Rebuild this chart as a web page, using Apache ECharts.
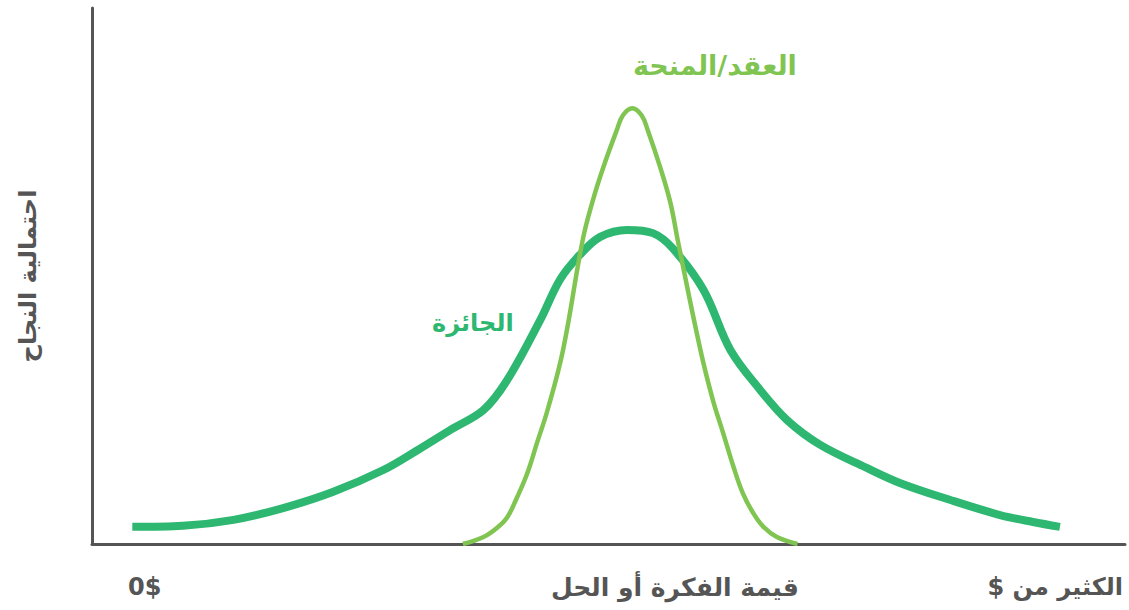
<!DOCTYPE html>
<html>
<head>
<meta charset="utf-8">
<script src="https://cdn.jsdelivr.net/npm/echarts@6/dist/echarts.min.js"></script>
<style>
  html, body { margin: 0; padding: 0; background: #fff; }
  #chart { width: 1129px; height: 610px; }
</style>
</head>
<body>
<div id="chart"></div>
<script>
// value of the idea (0..100) and chance of success (0..100)
var prizeX = [3.9, 8.8, 13.7, 18.5, 23.3, 28.2, 31.5, 34.7, 37.9, 40.2, 43.4, 45.3, 47.2, 49.2, 51.8, 54.3, 56.2, 59.2, 61.8, 64.7, 67.3, 70.5, 75.0, 78.2, 83.1, 87.9, 91.1, 93.7];
var prizeY = [3.2, 3.4, 4.5, 6.7, 9.7, 13.8, 17.5, 21.3, 25.0, 30.6, 41.8, 49.3, 53.9, 57.3, 58.6, 58.0, 55.2, 47.4, 36.2, 28.7, 23.1, 18.5, 14.2, 11.4, 8.2, 5.4, 4.1, 3.2];

var grantX = [35.9, 37.9, 39.2, 40.2, 41.1, 42.1, 43.1, 44.1, 45.6, 47.5, 48.5, 49.5, 50.8, 51.4, 52.3, 53.2, 53.8, 55.0, 56.0, 56.7, 58.9, 60.1, 61.1, 62.1, 63.0, 64.0, 65.0, 66.3, 68.3];
var grantY = [0, 1.3, 3.0, 5.0, 8.5, 13.0, 19.0, 25.0, 36.2, 56.7, 64.2, 70.3, 77.2, 80.0, 81.3, 80.0, 77.2, 70.3, 63.6, 56.7, 36.2, 26.9, 20.7, 14.4, 9.5, 5.8, 3.2, 1.3, 0];

var seriesNames = ['الجائزة', 'العقد/المنحة'];
var xTickLabels = ['0$', 'قيمة الفكرة أو الحل', 'الكثير من $\u200F'];
var yAxisTitle = 'احتمالية النجاح';

function pairs(xs, ys) {
  return xs.map(function (x, i) { return [x, ys[i]]; });
}

var font = '"DejaVu Sans", sans-serif';
var grey = '#555555';
var darkGreen = '#2eb770';
var lightGreen = '#80c551';

var myChart = echarts.init(document.getElementById('chart'), null, { renderer: 'svg' });

var option = {
  animation: false,
  backgroundColor: '#ffffff',
  grid: { left: 92, right: 4, top: 8, bottom: 66 },
  xAxis: {
    type: 'value',
    min: 0,
    max: 100,
    axisLine: { show: true, lineStyle: { color: grey, width: 3 } },
    axisTick: { show: false },
    splitLine: { show: false },
    axisLabel: { show: false }
  },
  yAxis: {
    type: 'value',
    min: 0,
    max: 100,
    name: yAxisTitle,
    nameLocation: 'middle',
    nameRotate: 90,
    nameGap: 52,
    nameTextStyle: { color: grey, fontSize: 24, fontWeight: 'bold', fontFamily: font },
    axisLine: { show: true, lineStyle: { color: grey, width: 3 } },
    axisTick: { show: false },
    splitLine: { show: false },
    axisLabel: { show: false }
  },
  graphic: [
    { type: 'text', left: 128, top: 575, style: { text: xTickLabels[0], fill: grey, fontSize: 24, fontWeight: 'bold', fontFamily: font } },
    { type: 'text', left: 551, top: 575, style: { text: xTickLabels[1], fill: grey, fontSize: 25, fontWeight: 'bold', fontFamily: font } },
    { type: 'text', right: 6, top: 575, style: { text: xTickLabels[2], fill: grey, fontSize: 24, fontWeight: 'bold', fontFamily: font } },
    { type: 'text', left: 633, top: 52, style: { text: seriesNames[1], fill: lightGreen, fontSize: 27, fontWeight: 'bold', fontFamily: font } },
    { type: 'text', left: 432, top: 311, style: { text: seriesNames[0], fill: darkGreen, fontSize: 24, fontWeight: 'bold', fontFamily: font } }
  ],
  series: [{
    name: seriesNames[0],
    type: 'line',
    smooth: 0.35,
    symbol: 'none',
    lineStyle: { color: darkGreen, width: 8 },
    data: pairs(prizeX, prizeY)
  }, {
    name: seriesNames[1],
    type: 'line',
    smooth: 0.4,
    symbol: 'none',
    lineStyle: { color: lightGreen, width: 4.5 },
    data: pairs(grantX, grantY)
  }]
};

myChart.setOption(option);

window.addEventListener('resize', function () {
  myChart.resize();
});
</script>
</body>
</html>
